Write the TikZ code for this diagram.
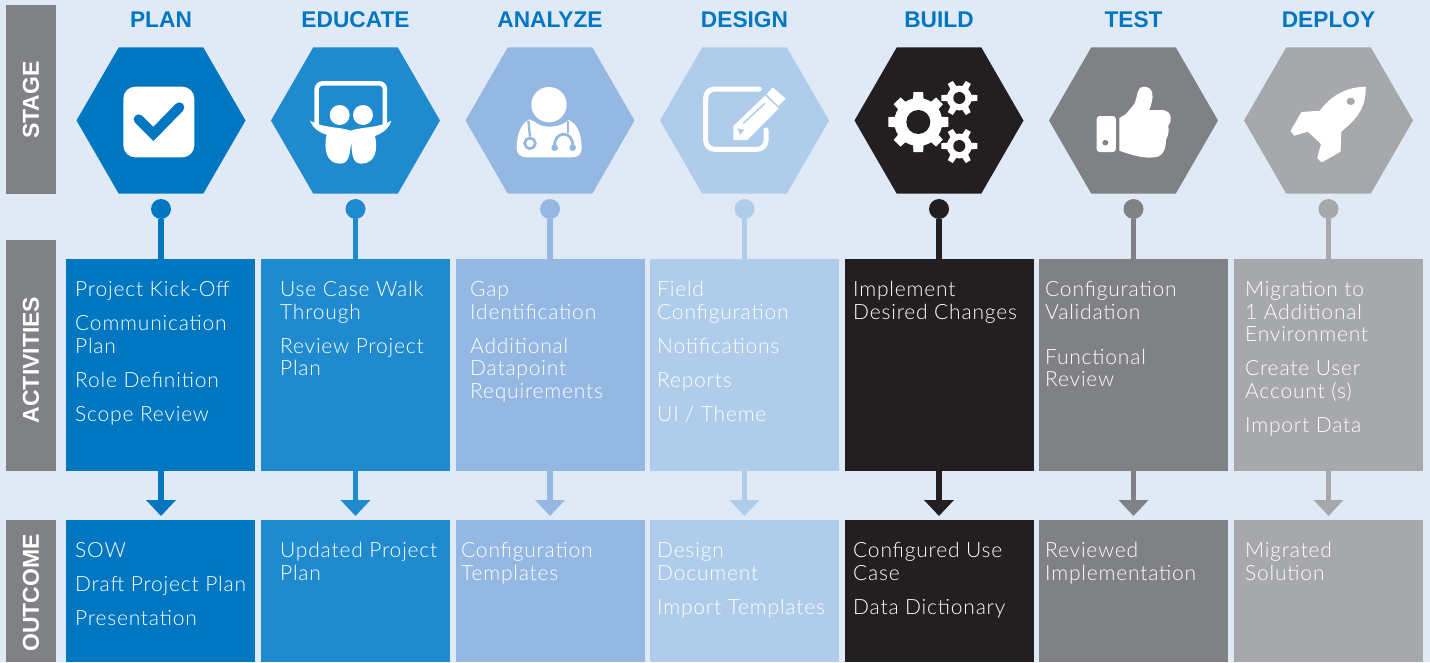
\documentclass[tikz,border=0pt]{standalone}
\usepackage{fontspec}
\usetikzlibrary{arrows.meta,shapes.geometric}
\setmainfont{Lato}[UprightFont=* Light,LetterSpace=3.8]
\newfontfamily\headfont{Liberation Sans}[BoldFont=* Bold]
\definecolor{bgc}{HTML}{E0EAF7}
\definecolor{hd}{HTML}{0077C0}
\definecolor{cA}{HTML}{0077C0}
\definecolor{cB}{HTML}{1F8ACD}
\definecolor{cC}{HTML}{95B8E2}
\definecolor{cD}{HTML}{AFCDEA}
\definecolor{cE}{HTML}{231F20}
\definecolor{cF}{HTML}{808184}
\definecolor{cG}{HTML}{A6A8AB}
\tikzset{
  heading/.style={font=\headfont\bfseries\fontsize{22.7}{24}\selectfont,text=hd,inner sep=0pt},
  sidebox/.style={fill=cF,anchor=north west,inner sep=0pt,minimum width=50pt},
  sidetext/.style={rotate=90,text=white,inner sep=0pt,font=\headfont\bfseries\fontsize{23}{24}\selectfont},
  hexa/.style={regular polygon,regular polygon sides=6,minimum size=169pt,inner sep=0pt,outer sep=0pt,fill=#1},
  pin/.style={circle,minimum size=20pt,inner sep=0pt,fill=#1},
  panel/.style={anchor=north west,minimum width=189pt,inner sep=0pt,outer sep=0pt,fill=#1},
  stem/.style={draw=#1,line width=5.5pt},
  flow/.style={draw=#1,line width=5.5pt,-{Triangle[length=16pt,width=29pt,fill=#1]},shorten >=4pt},
  label/.style={anchor=north west,inner sep=0pt,align=left,text=white,font=\fontsize{21}{22.6}\selectfont},
}
\newcommand{\stagecol}[5]{% id, colour, panel left, hex centre, heading
  \node[hexa=#2] (hex#1) at (#4,120.5) {};
  \node[heading] (head#1) at (#4,20) {#5};
  \node[pin=#2] (pin#1) at (#4,209) {};
  \node[panel=#2,minimum height=212pt] (act#1) at (#3,259) {};
  \node[panel=#2,minimum height=142pt] (out#1) at (#3,520) {};
  \draw[stem=#2] (pin#1.south) -- (pin#1.south |- act#1.north);
  \draw[flow=#2] (pin#1.south |- act#1.south) -- (pin#1.south |- out#1.north);
}
\newcommand{\gearshape}[8]{% cx cy outer body hole teeth colour rotation
  \foreach \a in {1,...,#6} {
    \fill[white,rotate around={\a*360/#6+#8:(#1,#2)}]
      ({#1-0.23*#3},{#2}) -- ({#1-0.16*#3},{#2-#3}) -- ({#1+0.16*#3},{#2-#3}) -- ({#1+0.23*#3},{#2}) -- cycle;
  }
  \fill[white] (#1,#2) circle[radius=#4];
  \fill[#7] (#1,#2) circle[radius=#5];
}
\begin{document}
\begin{tikzpicture}[x=1pt,y=-1pt]
\useasboundingbox (0,0) rectangle (1430,662);
\fill[bgc] (0,0) rectangle (1430,662);

\node[sidebox,minimum height=189pt] (sA) at (6,5) {};
\node[sidebox,minimum height=231pt] (sB) at (6,240) {};
\node[sidebox,minimum height=142pt] (sC) at (6,520) {};
\node[sidetext] (tA) at (31,100) {STAGE};
\node[sidetext] (tB) at (31,360) {ACTIVITIES};
\node[sidetext] (tC) at (31,593) {OUTCOME};

\stagecol{A}{cA}{66}{161}{PLAN}
\stagecol{B}{cB}{261}{355.5}{EDUCATE}
\stagecol{C}{cC}{456}{550}{ANALYZE}
\stagecol{D}{cD}{650}{744.5}{DESIGN}
\stagecol{E}{cE}{845}{939}{BUILD}
\stagecol{F}{cF}{1039}{1133.5}{TEST}
\stagecol{G}{cG}{1234}{1328.5}{DEPLOY}

% activity texts
\node[label] (la) at (75,280.7) {\strut Project Kick-Off\\[11.4pt]Communication\\Plan\\[11.4pt]Role Definition\\[11.4pt]Scope Review};
\node[label] (lb) at (280,280.7) {\strut Use Case Walk\\Through\\[11.4pt]Review Project\\Plan};
\node[label] (lc) at (470,280.7) {\strut Gap\\Identification\\[11.4pt]Additional\\Datapoint\\Requirements};
\node[label] (ld) at (657,280.7) {\strut Field\\Configuration\\[11.4pt]Notifications\\[11.4pt]Reports\\[11.4pt]UI / Theme};
\node[label] (le) at (853,280.7) {\strut Implement\\Desired Changes};
\node[label] (lf) at (1045,280.7) {\strut Configuration\\Validation\\[22.4pt]Functional\\Review};
\node[label] (lg) at (1245,280.7) {\strut Migration to\\1 Additional\\Environment\\[11.4pt]Create User\\Account (s)\\[11.4pt]Import Data};

% outcome texts
\node[label] (oa) at (75,541.7) {\strut SOW\\[11.4pt]Draft Project Plan\\[11.4pt]Presentation};
\node[label] (ob) at (280,541.7) {\strut Updated Project\\Plan};
\node[label] (oc) at (461,541.7) {\strut Configuration\\Templates};
\node[label] (od) at (657,541.7) {\strut Design\\Document\\[11.4pt]Import Templates};
\node[label] (oe) at (853,541.7) {\strut Configured Use\\Case\\[11.4pt]Data Dictionary};
\node[label] (of) at (1045,541.7) {\strut Reviewed\\Implementation};
\node[label] (og) at (1245,541.7) {\strut Migrated\\Solution};

% icon: check box
\begin{scope}[shift={(60,0)},x=0.33333pt,y=-0.33333pt]
  \fill[white,rounded corners=12pt] (190,260) rectangle (403,472);
  \draw[cA,line width=10pt,line cap=round,line join=miter] (236,358) -- (280,402) -- (358,322);
\end{scope}

% icon: presenter board
\begin{scope}[shift={(60,0)},x=0.33333pt,y=-0.33333pt]
  \draw[white,line width=4.5pt,rounded corners=6pt] (770,375) -- (770,250) -- (975,250) -- (975,375);
  \fill[white] (839,345) circle[radius=30];
  \fill[white] (909,345) circle[radius=30];
  \fill[white] (750,362) .. controls (790,385) and (840,380) .. (872,392)
     .. controls (905,380) and (955,385) .. (994,362)
     .. controls (985,395) and (950,405) .. (945,408)
     .. controls (955,450) and (945,490) .. (905,491)
     .. controls (880,491) and (874,470) .. (874,418)
     .. controls (870,470) and (865,491) .. (840,491)
     .. controls (800,491) and (790,450) .. (800,404)
     .. controls (790,402) and (760,390) .. (750,362) -- cycle;
\end{scope}

% icon: doctor
\begin{scope}[shift={(450,0)},x=0.33333pt,y=-0.33333pt]
  \fill[white] (297,314) circle[radius=53];
  \fill[white] (238,358) .. controls (215,370) and (200,400) .. (200,445)
     .. controls (200,462) and (212,472) .. (230,472) -- (365,472)
     .. controls (385,472) and (395,462) .. (395,445)
     .. controls (395,400) and (380,370) .. (356,360)
     .. controls (345,372) and (320,380) .. (297,380)
     .. controls (280,380) and (265,375) .. (253,365) -- cycle;
  \draw[cC,line width=2.3pt] (235,362) -- (240,410);
  \fill[white] (240,430) circle[radius=16];
  \draw[cC,line width=2.7pt] (240,430) circle[radius=16];
  \draw[cC,line width=2.3pt] (355,362) -- (355,398);
  \draw[cC,line width=2.7pt] (314,440) .. controls (310,390) and (372,390) .. (368,440);
  \fill[cC] (314,443) circle[radius=10];
  \fill[cC] (368,443) circle[radius=10];
\end{scope}

% icon: note and pencil
\begin{scope}[shift={(450,0)},x=0.33333pt,y=-0.33333pt]
  \draw[white,line width=5pt,line cap=round,rounded corners=9pt] (928,267) -- (767,267) -- (767,448) -- (948,448) -- (948,390);
  \fill[white] (850,378) -- (945,287) -- (986,325) -- (892,420) -- (850,420) -- cycle;
  \fill[white] (950,283) -- (968,262) -- (1007,296) -- (985,318) -- cycle;
  \draw[cD,line width=1.5pt] (880,370) -- (945,310);
  \fill[cD] (863,385) -- (883,390) -- (870,405) -- cycle;
\end{scope}

% icon: gears
\gearshape{918.3}{122}{30}{24}{12}{8}{cE}{0}
\gearshape{959.3}{98}{18}{12.5}{6}{6}{cE}{30}
\gearshape{959.3}{146}{18}{12.5}{6}{6}{cE}{30}

% icon: thumb up
\begin{scope}[shift={(840,0)},x=0.37636pt,y=-0.33333pt]
  \fill[white,rounded corners=3pt] (682,348) rectangle (733,456);
  \fill[cF] (705,428) circle[radius=8];
  \fill[white] (742,354) -- (760,342) -- (783,310)
     .. controls (792,290) and (785,262) .. (808,260)
     .. controls (835,262) and (835,290) .. (822,330)
     -- (858,330) .. controls (885,335) and (882,365) .. (872,378)
     .. controls (876,395) and (870,410) .. (866,420)
     .. controls (866,440) and (862,470) .. (835,472)
     .. controls (805,476) and (775,465) .. (742,452) -- cycle;
\end{scope}

% icon: rocket
\begin{scope}[shift={(840,0)},x=0.37636pt,y=-0.33333pt]
  \fill[white] (1397,260) .. controls (1335,262) and (1300,295) .. (1275,332)
     -- (1226,336) -- (1197,393) -- (1207,407) -- (1243,395) -- (1278,432)
     -- (1268,475) -- (1280,487) -- (1330,455) -- (1332,395)
     .. controls (1380,350) and (1397,320) .. (1397,260) -- cycle;
  \fill[cG] (1357,304) circle[radius=11];
\end{scope}
\end{tikzpicture}
\end{document}
